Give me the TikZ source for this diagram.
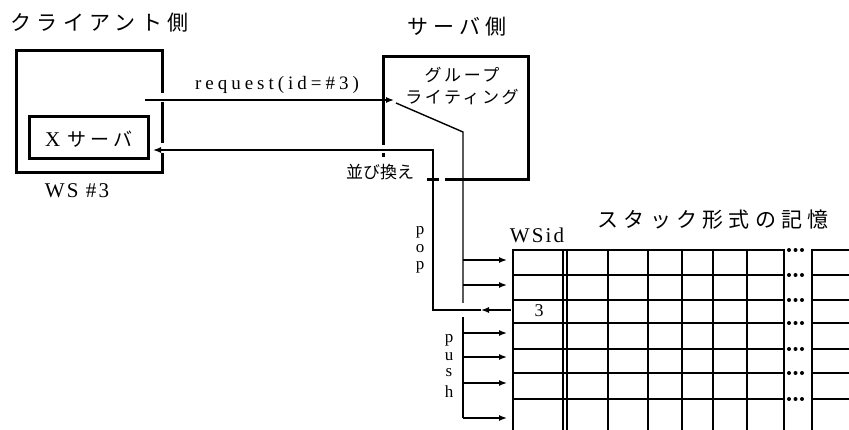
\documentclass[tikz,border=0pt]{standalone}
\usepackage{fontspec}
\setmainfont{Liberation Serif}
\newfontfamily\jp[LetterSpace=25]{Noto Sans CJK JP}
\newfontfamily\jps[LetterSpace=15]{Noto Sans CJK JP}
\newfontfamily\jpx[LetterSpace=22]{Noto Sans CJK JP}
\newfontfamily\jpn{Noto Sans CJK JP}
\newfontfamily\lsp[LetterSpace=21]{Liberation Serif}
\newfontfamily\lspb[LetterSpace=10]{Liberation Serif}
\usetikzlibrary{arrows.meta}
\tikzset{
  box/.style={line width=3pt},
  conn/.style={line width=1.4pt},
  tbl/.style={line width=2.2pt},
  arr/.style={-{Latex[length=8pt,width=6pt]}},
  lbl/.style={inner sep=0pt, anchor=center},
  vlet/.style={inner sep=0pt, anchor=base, font=\fontsize{17}{20}\selectfont},
}
\begin{document}
\begin{tikzpicture}[x=1pt,y=-1pt]
\useasboundingbox (0,0) rectangle (849,430);
% titles
\node[lbl] (tclient) at (99.5,23) {\jp\fontsize{21}{24}\selectfont クライアント側};
\node[lbl] (tserver) at (457,27) {\jp\fontsize{21}{24}\selectfont サーバ側};
\node[lbl] (tstack) at (713,220) {\jp\fontsize{21}{24}\selectfont スタック形式の記憶};
% client box
\draw[box] (162,93) |- (16,51) |- (162,173) -- (162,153);
\draw[box] (162,102) -- (162,143);
\node[draw, line width=3pt, minimum width=119pt, minimum height=42pt, inner sep=0pt] (xs) at (88.5,138) {};
\node[lbl] (xst) at (89,139) {\lspb\fontsize{21}{24}\selectfont X\ {\jpx\fontsize{19}{22}\selectfont サーバ}};
\node[lbl] (ws) at (77,191) {\lspb\fontsize{21}{24}\selectfont WS\ \#3};
% server box
\draw[box] (383,145) |- (528,57) |- (445,180);
\draw[box] (427,180) -- (439,180);
\draw[box] (383,153) -- (383,157);
\node[lbl] (gw1) at (462,75) {\jps\fontsize{17}{20}\selectfont グループ};
\node[lbl] (gw2) at (462,97) {\jps\fontsize{17}{20}\selectfont ライティング};
\node[lbl] (sort) at (380,172) {\jpn\fontsize{17}{20}\selectfont 並び換え};
% request
\coordinate (reqS) at (145,100);
\coordinate (reqE) at (394,100);
\draw[conn,arr] (reqS) -- (reqE);
\node[lbl] (reqt) at (277,85) {\lsp\fontsize{19}{22}\selectfont request(id=\#3)};
% push path
\coordinate (sl) at (396,103);
\coordinate (bend) at (463,132);
\coordinate (gapT) at (463,303);
\coordinate (gapB) at (463,317);
\coordinate (bot) at (463,418);
\draw[conn] (sl) -- (bend) -- (gapT);
\draw[conn] (gapB) -- (bot);
\foreach \y [count=\i] in {260,285,333,357,383,418} {
  \coordinate (bL\i) at (463,\y);
  \coordinate (bR\i) at (507,\y);
  \draw[conn,arr] (bL\i) -- (bR\i);
}
% pop / return path
\coordinate (popS) at (511,310);
\coordinate (popM) at (481,310);
\coordinate (popC) at (433,310);
\coordinate (retC) at (433,150);
\coordinate (retE) at (153,150);
\draw[conn,arr] (popS) -- (popM);
\draw[conn,arr] (popM) -- (popC) -- (retC) -- (retE);
% vertical labels
\node[vlet] (pop1) at (420,235) {p};
\node[vlet] (pop2) at (420,253) {o};
\node[vlet] (pop3) at (420,270) {p};
\node[vlet] (push1) at (449,343) {p};
\node[vlet] (push2) at (449,361) {u};
\node[vlet] (push3) at (449,377) {s};
\node[vlet] (push4) at (449,397) {h};
% table
\foreach \y in {250,275,300,323,349,373,399} {
  \draw[tbl] (513,\y) -- (784,\y);
  \draw[tbl] (812,\y) -- (849,\y);
  \foreach \x in {789,795.5,802} \fill (\x,\y) circle (2pt);
}
\foreach \x in {513,563,567,608,648,682,713,747,784,812}
  \draw[tbl] (\x,249) -- (\x,430);
\node[lbl] (wsid) at (537,235) {\lspb\fontsize{21}{24}\selectfont WSid};
\node[lbl] (three) at (539,311) {\fontsize{18}{20}\selectfont 3};
\end{tikzpicture}
\end{document}
